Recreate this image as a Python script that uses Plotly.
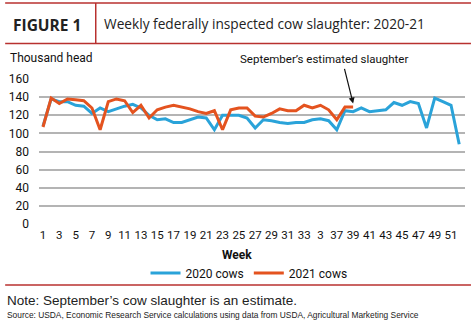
import plotly.graph_objects as go

weeks_2020 = list(range(1, 53))
cows_2020 = [108, 138, 135, 135, 131, 130, 122, 128, 124, 127, 130, 132, 128, 120, 115, 116, 112, 112, 115, 118,
             117, 104, 120, 120, 120, 117, 106, 115, 114, 112, 111, 112, 112, 115, 116, 114, 104, 125, 124, 128,
             124, 125, 126, 134, 131, 135, 133, 106, 139, 135, 131, 88]
weeks_2021 = list(range(1, 40))
cows_2021 = [107, 139, 133, 138, 137, 136, 128, 104, 135, 138, 136, 123, 131, 117, 126, 129, 131, 129, 127, 124,
             122, 125, 104, 126, 128, 128, 119, 118, 122, 127, 125, 125, 131, 128, 131, 126, 115, 129, 129]
tick_vals = list(range(1, 52, 2))
tick_text = [str(v) for v in tick_vals]
tick_text[tick_vals.index(35)] = "3"
y_ticks = [0, 20, 40, 60, 80, 100, 120, 140, 160]

W, H = 474, 325
L, R, T, B = 37, 465, 79, 224


def px(x):
    return (x - L) / (R - L)


def py(y):
    return (B - y) / (B - T)


BLUE = "#2aa3d9"
ORANGE = "#e4531f"
RED = "#b8312f"
NARROW = "Roboto, Liberation Sans, Arial"
ARIAL = "Liberation Sans, Arial"

fig = go.Figure()
fig.add_trace(go.Scatter(x=weeks_2020, y=cows_2020, mode="lines", name="2020 cows",
                         line=dict(color=BLUE, width=3)))
fig.add_trace(go.Scatter(x=weeks_2021, y=cows_2021, mode="lines", name="2021 cows",
                         line=dict(color=ORANGE, width=3)))

shapes = [
    dict(type="line", xref="paper", yref="paper", x0=px(3), x1=px(471), y0=py(3), y1=py(3),
         line=dict(color=RED, width=1.5)),
    dict(type="line", xref="paper", yref="paper", x0=px(3), x1=px(471), y0=py(43.5), y1=py(43.5),
         line=dict(color=RED, width=1.5)),
    dict(type="line", xref="paper", yref="paper", x0=px(94), x1=px(94), y0=py(3), y1=py(43.5),
         line=dict(color=RED, width=1.5)),
    dict(type="line", xref="paper", yref="paper", x0=px(3), x1=px(471), y0=py(285), y1=py(285),
         line=dict(color=RED, width=1.5)),
]

annotations = [
    dict(text="<b>FIGURE 1</b>", x=px(9), y=py(24.5), xref="paper", yref="paper", xanchor="left",
         yanchor="middle", showarrow=False, font=dict(family="Open Sans", size=15.5, color="#222222")),
    dict(text="Weekly federally inspected cow slaughter: 2020-21", x=px(100), y=py(24), xref="paper",
         yref="paper", xanchor="left", yanchor="middle", showarrow=False,
         font=dict(family="Open Sans", size=13.7, color="#222222")),
    dict(text="Thousand head", x=px(6), y=py(58), xref="paper", yref="paper", xanchor="left",
         yanchor="middle", showarrow=False, font=dict(family=NARROW, size=12, color="#111111")),
    dict(text="September\u2019s estimated slaughter", x=px(323), y=py(59), xref="paper", yref="paper",
         xanchor="center", yanchor="middle", showarrow=False,
         font=dict(family=NARROW, size=11.5, color="#111111")),
    dict(text="", x=39, y=133, xref="x", yref="y", showarrow=True, ax=-9, ay=-36,
         arrowhead=2, arrowsize=1, arrowwidth=1.2, arrowcolor="#111111"),
    dict(text="<b>Week</b>", x=px(236), y=py(255), xref="paper", yref="paper", xanchor="center",
         yanchor="middle", showarrow=False, font=dict(family=NARROW, size=12, color="#111111")),
    dict(text="Note: September\u2019s cow slaughter is an estimate.", x=px(3), y=py(300), xref="paper",
         yref="paper", xanchor="left", yanchor="middle", showarrow=False,
         font=dict(family=ARIAL, size=13.5, color="#222222")),
    dict(text="Source: USDA, Economic Research Service calculations using data from USDA, Agricultural Marketing Service",
         x=px(3), y=py(315), xref="paper", yref="paper", xanchor="left", yanchor="middle", showarrow=False,
         font=dict(family=ARIAL, size=8.4, color="#222222")),
]

fig.update_layout(
    width=W, height=H,
    margin=dict(l=L, r=W - R, t=T, b=H - B),
    paper_bgcolor="white", plot_bgcolor="white",
    shapes=shapes, annotations=annotations,
    showlegend=True,
    legend=dict(orientation="h", x=px(248), xanchor="center", y=py(273), yanchor="middle",
                font=dict(family=NARROW, size=12, color="#111111"), bgcolor="rgba(0,0,0,0)",
                itemwidth=30, tracegroupgap=0),
    xaxis=dict(range=[0.51, 52.71], tickmode="array", tickvals=tick_vals, ticktext=tick_text,
               showgrid=False, zeroline=False, showline=False, ticks="", tickangle=0,
               tickfont=dict(family=NARROW, size=11.5, color="#111111"), ticklabelstandoff=2),
    yaxis=dict(range=[0, 160], tickmode="array", tickvals=y_ticks, showgrid=True,
               gridcolor="#b4b4b4", gridwidth=1.5, zeroline=False, showline=False, ticks="",
               tickfont=dict(family=NARROW, size=12, color="#111111"), ticklabelstandoff=9),
)

fig.write_html("out.html")
